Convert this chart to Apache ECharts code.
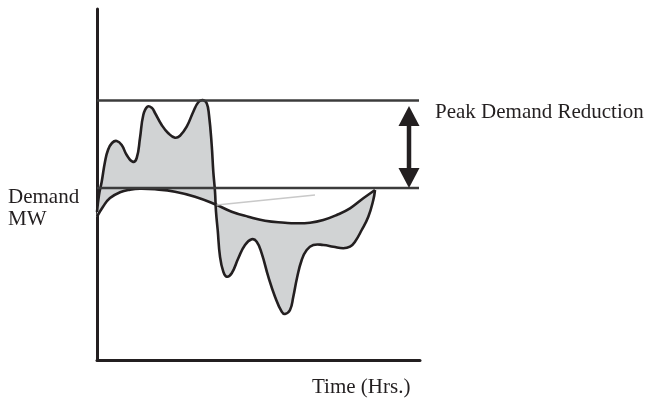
<!DOCTYPE html>
<html>
<head>
<meta charset="utf-8">
<script src="https://cdn.jsdelivr.net/npm/echarts@6/dist/echarts.min.js"></script>
<style>html,body{margin:0;padding:0;background:#fff}#c{width:665px;height:402px}</style>
</head>
<body>
<div id="c"></div>
<script>
// Original demand profile (arbitrary time units, arbitrary MW units)
var originalDemand = [
  [0,148],[2,165],[4.7,178.3],[8,198.3],[11,210],[15,217],[19.7,219],[24.7,215],[29.7,205],[35.7,198.3],
  [39.7,202],[43,222],[46.3,245],[50.3,253.3],[54.7,252.3],[58,247],[64.7,235],[71.3,226.7],[78,222.3],[83,224.3],
  [89.7,233.3],[96.3,248.3],[101.3,257.7],[105.7,260],[109.7,256.7],[112,245],[114.7,215],[116.3,188.3],[118,168.3],[119,148.3],
  [120.7,130],[123,103.3],[126.3,88.3],[129.7,83.3],[134.7,86.7],[141.3,101.7],[148,115],[154.7,120.7],[159.7,118.3],[164.7,106.7],
  [171.3,83.3],[178,63.3],[184.7,48.3],[188,46],[193,50],[196.3,63.3],[200,82],[204.7,100],[209.7,110],[216.3,115],
  [226.3,115],[236.3,113.3],[246.3,111.7],[253,113.3],[258,118.3],[264.7,130],[271.3,143.3],[276.3,160],[278,170]
];
// Levelled (managed) demand profile
var managedDemand = [
  [0,143.3],[6,153.3],[13,162],[23,167.7],[33,170.3],[43,171.3],[58,170.7],[78,168.3],[98,163.3],[118,155.8],
  [134.7,148.3],[151.3,143.3],[168,139.3],[188,137.3],[198,136.7],[213,137.3],[226.3,140],[239.7,145],[253,151.7],[266.3,161.7],[278,170]
];
var originalPeak = 259.5;
var reducedPeak = 172;
var levelLineEnd = 322;
var arrowX = 312;
var arrowTop = 254;
var faintLine = [[119.7,155],[218,165]];
var labels = {
  reduction: 'Peak Demand Reduction',
  yName: ['Demand', 'MW'],
  xName: 'Time (Hrs.)'
};

var chart = echarts.init(document.getElementById('c'), null, {renderer: 'canvas'});
var dark = '#231f20';
var font = '"Liberation Serif", "Times New Roman", serif';

chart.setOption({
  animation: false,
  grid: {left: 97, right: 245, top: 9, bottom: 42},
  xAxis: {
    type: 'value', min: 0, max: 323,
    axisLine: {show: true, lineStyle: {color: dark, width: 3}},
    axisTick: {show: false}, axisLabel: {show: false}, splitLine: {show: false}
  },
  yAxis: {
    type: 'value', min: 0, max: 351,
    axisLine: {show: true, lineStyle: {color: dark, width: 3}},
    axisTick: {show: false}, axisLabel: {show: false}, splitLine: {show: false}
  },
  series: [
    {
      type: 'line', data: [[0, originalPeak], [levelLineEnd, originalPeak]],
      symbol: 'none', lineStyle: {color: '#3c3c3c', width: 2.5}, z: 3
    },
    {
      type: 'line', data: [[0, reducedPeak], [levelLineEnd, reducedPeak]],
      symbol: 'none', lineStyle: {color: '#3c3c3c', width: 2.5}, z: 3
    },
    {
      type: 'custom', z: 2, data: [[0, 0]],
      renderItem: function (params, api) {
        var w = originalDemand.map(function (p) { return api.coord(p); });
        var s = managedDemand.map(function (p) { return api.coord(p); });
        var fillPts = w.concat(s.slice(0, -1).reverse());
        var sm = 0.45;
        return {
          type: 'group',
          children: [
            {type: 'polygon', shape: {points: fillPts, smooth: sm}, style: {fill: '#d1d3d4', stroke: null}},
            {type: 'polyline', shape: {points: s, smooth: sm}, style: {fill: null, stroke: dark, lineWidth: 2.6}},
            {type: 'polyline', shape: {points: w, smooth: sm}, style: {fill: null, stroke: dark, lineWidth: 2.6}}
          ]
        };
      }
    },
    {
      type: 'line', data: faintLine, symbol: 'none', z: 2,
      lineStyle: {color: '#c9c9c9', width: 1.5}
    },
    {
      type: 'custom', z: 4, data: [[arrowX, arrowTop]],
      renderItem: function (params, api) {
        var top = api.coord([arrowX, arrowTop]);
        var bot = api.coord([arrowX, reducedPeak]);
        var hw = 10.5, hh = 20;
        return {
          type: 'group',
          children: [
            {type: 'line', shape: {x1: top[0], y1: top[1] + hh - 2, x2: bot[0], y2: bot[1] - hh + 2}, style: {stroke: dark, lineWidth: 4.5}},
            {type: 'polygon', shape: {points: [[top[0], top[1]], [top[0] - hw, top[1] + hh], [top[0] + hw, top[1] + hh]]}, style: {fill: dark}},
            {type: 'polygon', shape: {points: [[bot[0], bot[1]], [bot[0] - hw, bot[1] - hh], [bot[0] + hw, bot[1] - hh]]}, style: {fill: dark}}
          ]
        };
      }
    }
  ],
  graphic: [
    {type: 'text', left: 435, top: 102, style: {text: labels.reduction, font: '21px ' + font, fill: dark}},
    {type: 'text', left: 8, top: 187, style: {text: labels.yName[0], font: '21px ' + font, fill: dark}},
    {type: 'text', left: 8, top: 209, style: {text: labels.yName[1], font: '21px ' + font, fill: dark}},
    {type: 'text', left: 312, top: 377, style: {text: labels.xName, font: '21px ' + font, fill: dark}}
  ]
});
</script>
</body>
</html>
